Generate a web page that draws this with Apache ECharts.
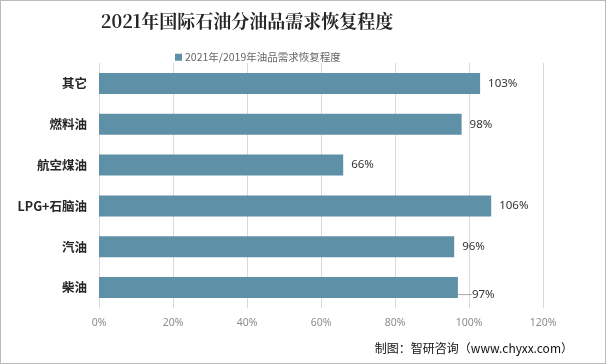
<!DOCTYPE html>
<html><head><meta charset="utf-8">
<script src="https://cdn.jsdelivr.net/npm/echarts@6/dist/echarts.min.js"></script>
<style>html,body{margin:0;padding:0;background:#fff}#c{width:606px;height:364px;box-sizing:border-box;border:1px solid #bbb}</style>
</head><body><div id="c"></div>
<script>
const categories = ['其它','燃料油','航空煤油','LPG+石脑油','汽油','柴油'];
const values = [103, 98, 66, 106, 96, 97];
const seriesName = '2021年/2019年油品需求恢复程度';
const tickMax = 120;
const chart = echarts.init(document.getElementById('c'));
const data = values.map((v, i) => i === 5
  ? {value: v, labelLine: {show: true, lineStyle: {color: '#aaa'}}}
  : {value: v, labelLine: {show: false}});
chart.setOption({
  animation: false,
  title: [{
    text: '2021年国际石油分油品需求恢复程度',
    left: 241, top: 6, textAlign: 'center',
    textStyle: {fontFamily: 'Noto Serif CJK SC, Noto Sans CJK SC', fontSize: 18, fontWeight: 'bold', color: '#262626'}
  },{
    text: '制图：智研咨询（www.chyxx.com）',
    right: 27, bottom: 4,
    textStyle: {fontFamily: 'Noto Sans CJK SC', fontSize: 12, fontWeight: 'normal', color: '#111'}
  }],
  legend: {
    top: 46, left: 169, itemWidth: 7, itemHeight: 7, itemGap: 3,
    icon: 'rect',
    textStyle: {fontFamily: 'Noto Sans CJK SC', fontSize: 10.5, color: '#666', padding: [0,0,0,-2]},
    data: [seriesName]
  },
  grid: {left: 98, right: 62, top: 62, bottom: 55, containLabel: false},
  xAxis: {
    type: 'value', min: 0, max: tickMax, interval: 20,
    axisLabel: {formatter: '{value}%', color: '#8c8c8c', fontSize: 10.5, margin: 10, fontFamily: 'Noto Sans'},
    splitLine: {lineStyle: {color: '#d9d9d9'}},
    axisLine: {show: false}, axisTick: {show: false}
  },
  yAxis: {
    type: 'category', inverse: true, data: categories,
    axisLine: {show: true, lineStyle: {color: '#d9d9d9'}},
    axisTick: {show: false},
    axisLabel: {color: '#262626', fontSize: 12.5, fontWeight: 'bold', margin: 12, fontFamily: 'Noto Sans CJK SC'}
  },
  series: [{
    name: seriesName, type: 'bar', barWidth: 21,
    itemStyle: {color: '#5e91a7'},
    data: data,
    label: {show: true, position: 'right', distance: 8, formatter: '{c}%', color: '#333', fontSize: 11.5, fontFamily: 'Noto Sans'},
    labelLayout: function (p) {
      if (p.dataIndex === 5) return {dx: 6, dy: 7};
      return {};
    }
  }]
});
</script></body></html>
